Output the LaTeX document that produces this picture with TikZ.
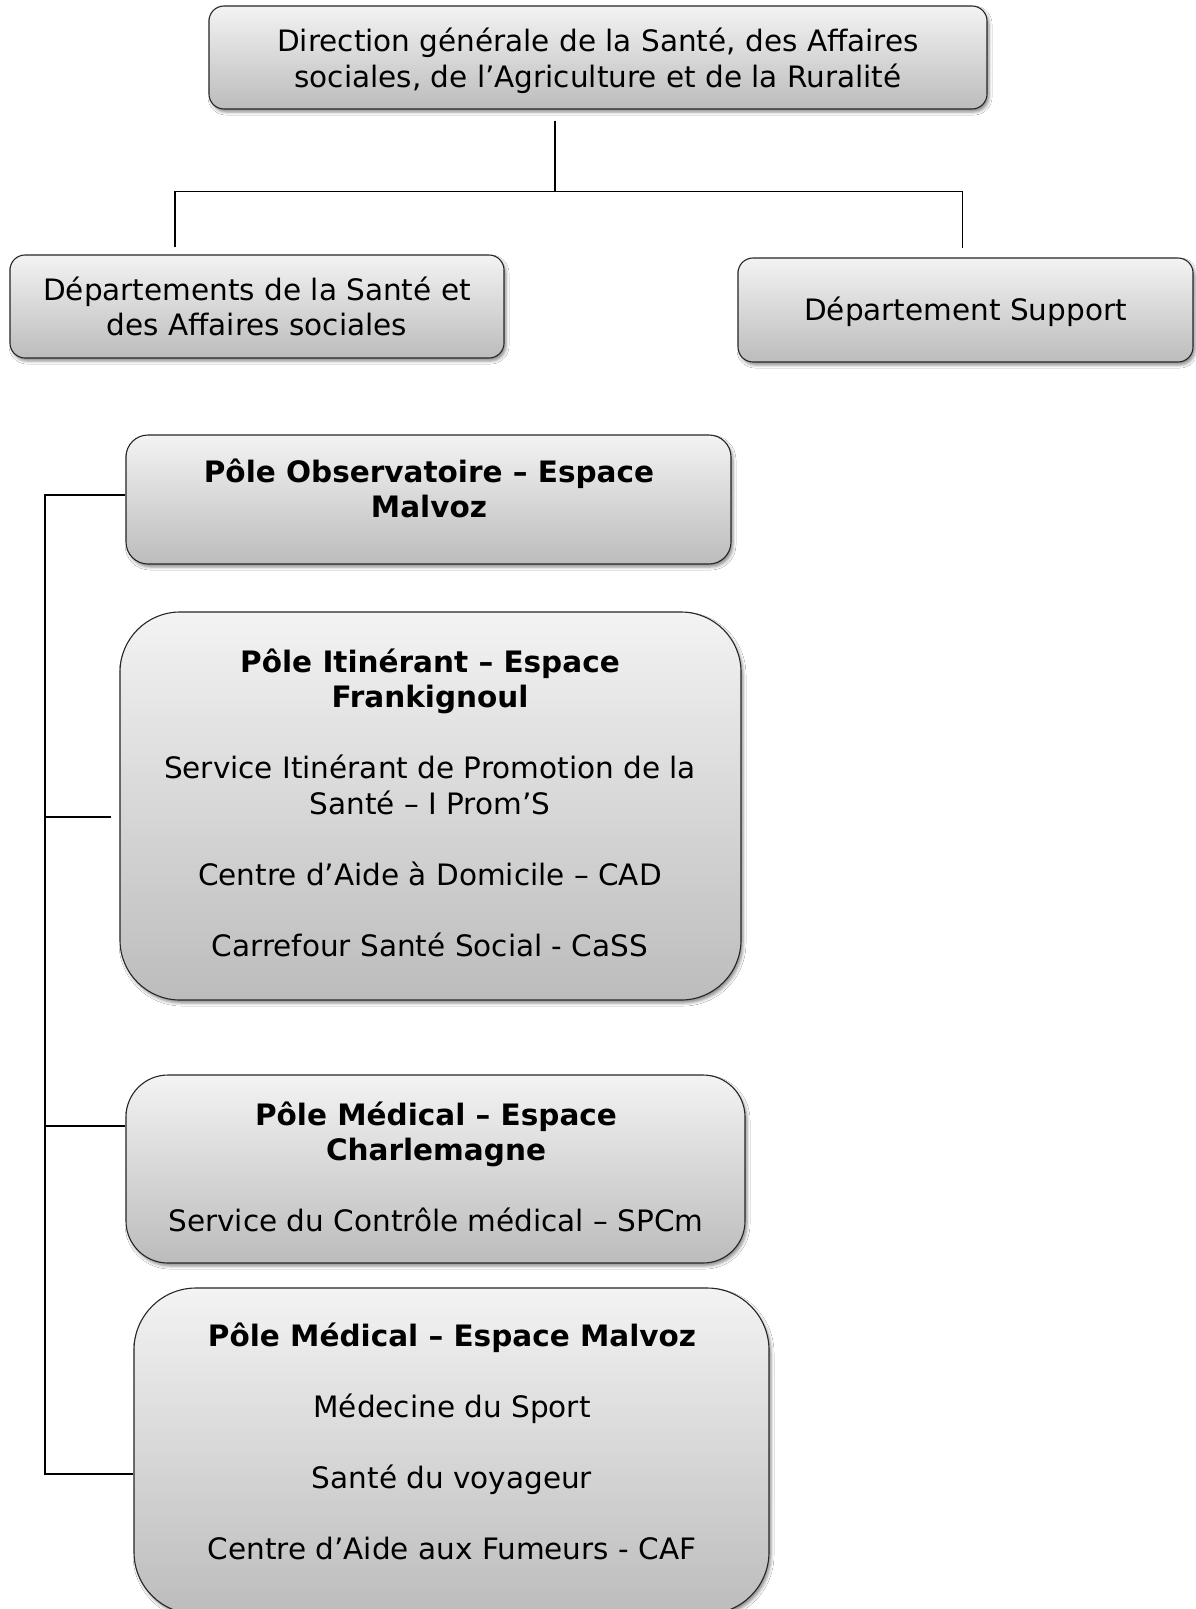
\documentclass[tikz,border=0pt]{standalone}
\usepackage{fontspec}
\setmainfont{DejaVu Sans}
\usetikzlibrary{shadows.blur}
\definecolor{boxtop}{RGB}{243,243,243}
\definecolor{boxbot}{RGB}{188,188,188}
\newcommand\boxfont{\fontsize{29.5}{35.5}\selectfont}
\newcommand\firstln{\rule{0pt}{30pt}}
\begin{document}
\begin{tikzpicture}[x=1pt,y=-1pt,
  box/.style={draw=black!85, line width=1.1pt, top color=boxtop, bottom color=boxbot,
    blur shadow={shadow xshift=2pt, shadow yshift=-3pt, shadow blur radius=3pt, shadow opacity=45},
    inner sep=0pt, align=center, font=\boxfont},
  txt/.style={font=\boxfont, align=center, inner sep=0pt, anchor=north},
  conn/.style={line width=1.5pt, black}]
\useasboundingbox (0,0) rectangle (1195,1609);
\fill[white] (0,0) rectangle (1195,1609);

% top row
\node[box, rounded corners=15pt, minimum width=778pt, minimum height=103pt] (dg) at (598,57.5)
  {\rule{0pt}{30pt}Direction générale de la Santé, des Affaires\\ sociales, de l’Agriculture et de la Ruralité};
\node[box, rounded corners=15pt, minimum width=494pt, minimum height=103pt] (dsas) at (257,306.5)
  {Départements de la Santé et\\ des Affaires sociales};
\node[box, rounded corners=15pt, minimum width=455pt, minimum height=104pt] (ds) at (965.5,310)
  {\rule{0pt}{28pt}Département Support};

% poles
\node[box, rounded corners=22pt, minimum width=605pt, minimum height=129pt] (obs) at (428.5,499.5) {};
\node[box, rounded corners=60pt, minimum width=621pt, minimum height=388pt] (iti) at (430.5,806) {};
\node[box, rounded corners=42pt, minimum width=619pt, minimum height=188pt] (ch) at (435.5,1169) {};
\node[box, rounded corners=62pt, minimum width=635pt, minimum height=326pt] (mv) at (451.5,1451) {};

\node[txt] (obsT) at (429,452) {\firstln\bfseries Pôle Observatoire – Espace\\ \bfseries Malvoz};
\node[txt] (itiT) at (430,642) {\firstln\bfseries Pôle Itinérant – Espace\\ \bfseries Frankignoul\\[35.5pt]
  Service Itinérant de Promotion de la\\ Santé – I Prom’S\\[35.5pt]
  Centre d’Aide à Domicile – CAD\\[35.5pt]
  Carrefour Santé Social - CaSS};
\node[txt] (chT) at (436,1095) {\firstln\bfseries Pôle Médical – Espace\\ \bfseries Charlemagne\\[35.5pt]
  Service du Contrôle médical – SPCm};
\node[txt] (mvT) at (452,1316) {\firstln\bfseries Pôle Médical – Espace Malvoz\\[35.5pt]
  Médecine du Sport\\[35.5pt]
  Santé du voyageur\\[35.5pt]
  Centre d’Aide aux Fumeurs - CAF};

% top connectors
\draw[conn] ([xshift=-43pt,yshift=-11pt]dg.south) -- ++(0,71) coordinate (busC);
\draw[conn] ([xshift=-82pt,yshift=7pt]dsas.north) |- (busC) -| ([xshift=-3pt,yshift=9pt]ds.north);

% left spine
\coordinate (spBot) at (45,1474);
\draw[conn] ([yshift=4.5pt]obs.west) -| (spBot) -- ([yshift=-23pt]mv.west);
\path ([yshift=-11pt]iti.west) coordinate (b2);
\draw[conn] ([xshift=-8pt]b2) -- (b2 -| spBot);
\path ([yshift=43pt]ch.west) coordinate (b3);
\draw[conn] (b3) -- (b3 -| spBot);
\end{tikzpicture}
\end{document}
